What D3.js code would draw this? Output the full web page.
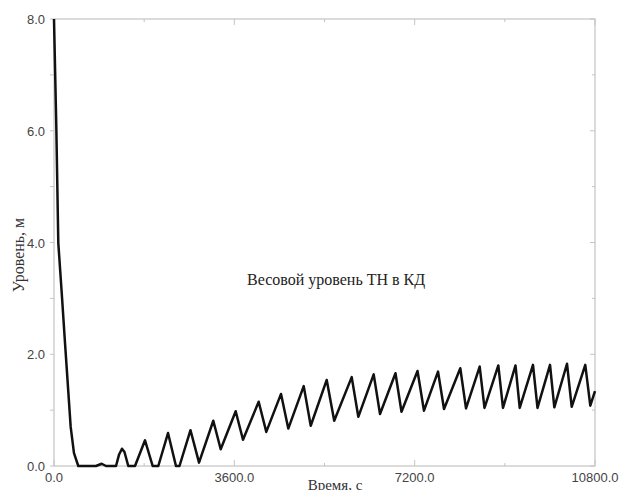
<!DOCTYPE html>
<html>
<head>
<meta charset="utf-8">
<script src="https://cdn.jsdelivr.net/npm/d3@7"></script>
<style>
  body { margin: 0; background: #fff; }
</style>
</head>
<body>
<script>
// time, s
const times = [0, 46, 86, 154, 220, 333, 399, 485, 838, 952, 1038, 1238,
  1297, 1357, 1407, 1483, 1617, 1817, 1970, 2082, 2276, 2435, 2505,
  2725, 2895, 3180, 3328, 3627, 3773, 4086, 4238, 4532, 4677, 4985, 5125,
  5444, 5594, 5943, 6075, 6382, 6508, 6817, 6937, 7257, 7386, 7666, 7786,
  8111, 8225, 8498, 8594, 8870, 8963, 9213, 9297, 9562, 9652, 9902, 9988,
  10241, 10335, 10606, 10706, 10800];
// level, m
const levels = [8.0, 6.07, 3.99, 3.10, 2.20, 0.70, 0.23, 0, 0, 0.04, 0, 0,
  0.2, 0.31, 0.25, 0, 0, 0.46, 0, 0, 0.59, 0, 0,
  0.64, 0.06, 0.81, 0.30, 0.98, 0.47, 1.15, 0.61, 1.29, 0.67, 1.43, 0.72,
  1.54, 0.81, 1.59, 0.88, 1.64, 0.93, 1.66, 0.97, 1.70, 0.99, 1.69, 1.02,
  1.75, 1.03, 1.78, 1.04, 1.80, 1.04, 1.80, 1.04, 1.81, 1.04, 1.81, 1.05,
  1.83, 1.06, 1.81, 1.08, 1.34];

const xTicks = [0, 3600, 7200, 10800];
const xMinor = [1800, 5400, 9000];
const yTicks = [0, 2, 4, 6, 8];
const yMinor = [1, 3, 5, 7];

const width = 619, height = 490;
const margin = {left: 54, top: 19, right: 24, bottom: 24};

const svg = d3.select("body").append("svg")
  .attr("width", width)
  .attr("height", height);

const x = d3.scaleLinear().domain([0, 10800]).range([margin.left, width - margin.right]);
const y = d3.scaleLinear().domain([0, 8]).range([height - margin.bottom, margin.top]);

const frameColor = "#c4c4c4";

// plot frame
svg.append("rect")
  .attr("x", x(0)).attr("y", y(8))
  .attr("width", x(10800) - x(0)).attr("height", y(0) - y(8))
  .attr("fill", "none").attr("stroke", frameColor).attr("stroke-width", 1.2);

// ticks on all sides, inward
const tickG = svg.append("g").attr("stroke", frameColor).attr("stroke-width", 1);
function xTick(v, len) {
  tickG.append("line").attr("x1", x(v)).attr("x2", x(v)).attr("y1", y(0)).attr("y2", y(0) - len);
  tickG.append("line").attr("x1", x(v)).attr("x2", x(v)).attr("y1", y(8)).attr("y2", y(8) + len);
}
function yTick(v, len) {
  tickG.append("line").attr("y1", y(v)).attr("y2", y(v)).attr("x1", x(0) - 4).attr("x2", x(0));
  tickG.append("line").attr("y1", y(v)).attr("y2", y(v)).attr("x1", x(10800)).attr("x2", x(10800) - len);
}
xTicks.forEach(v => xTick(v, 6));
xMinor.forEach(v => xTick(v, 3));
yTicks.forEach(v => yTick(v, 5));
yMinor.forEach(v => yTick(v, 3));

// tick labels
const labelFont = "'Liberation Sans', Arial, sans-serif";
svg.append("g").selectAll("text")
  .data(xTicks)
  .enter().append("text")
  .attr("x", d => x(d))
  .attr("y", y(0) + 16)
  .attr("text-anchor", "middle")
  .style("font-family", labelFont)
  .style("font-size", "13px")
  .style("fill", "#444")
  .text(d => d.toFixed(1));

svg.append("g").selectAll("text")
  .data(yTicks)
  .enter().append("text")
  .attr("x", x(0) - 9)
  .attr("y", d => y(d) + 5)
  .attr("text-anchor", "end")
  .style("font-family", labelFont)
  .style("font-size", "13px")
  .style("fill", "#444")
  .text(d => d.toFixed(1));

// axis titles
const serif = "'Liberation Serif', 'Times New Roman', serif";
svg.append("text")
  .attr("transform", "translate(24,255) rotate(-90)")
  .attr("text-anchor", "middle")
  .style("font-family", serif)
  .style("font-size", "16px")
  .style("fill", "#333")
  .text("Уровень, м");

svg.append("text")
  .attr("x", 335)
  .attr("y", 490)
  .attr("text-anchor", "middle")
  .style("font-family", serif)
  .style("font-size", "15px")
  .style("fill", "#333")
  .text("Время, с");

svg.append("text")
  .attr("x", 247)
  .attr("y", 285)
  .style("font-family", serif)
  .style("font-size", "16px")
  .style("fill", "#222")
  .text("Весовой уровень ТН в КД");

// level curve
const line = d3.line()
  .x((d, i) => x(times[i]))
  .y(d => y(d));

svg.append("path")
  .datum(levels)
  .attr("d", line)
  .attr("fill", "none")
  .attr("stroke", "#111")
  .attr("stroke-width", 2.5)
  .attr("stroke-linejoin", "round");
</script>
</body>
</html>
